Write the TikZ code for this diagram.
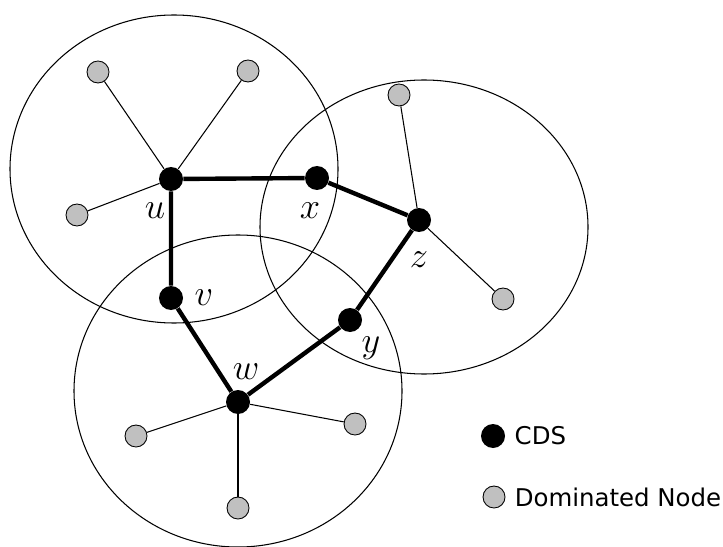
\documentclass[tikz,border=0pt]{standalone}
\usepackage{amsmath}
\usepackage{xcolor}
\usepackage{fontspec}
\newfontfamily\legendfont{DejaVu Sans}
\definecolor{domgray}{RGB}{192,192,192}

\begin{document}
\begin{tikzpicture}[x=0.02cm,y=-0.02cm]
\tikzstyle{every node}+=[inner sep=0pt]
\tikzstyle{cds}=[circle,fill=black,minimum size=24*0.02cm]
\tikzstyle{dom}=[circle,draw=black,line width=0.5pt,fill=domgray,minimum size=22*0.02cm]
\tikzstyle{lbl}=[font=\fontsize{21}{22}\selectfont]
\useasboundingbox (0,0) rectangle (723,547);
% coverage ranges
\draw [black,line width=0.6pt] (174,169) ellipse (164 and 154);
\draw [black,line width=0.6pt] (424,227) ellipse (164 and 147);
\draw [black,line width=0.6pt] (238,391) ellipse (164 and 156);
% backbone
\node [cds] (u) at (171,179) {};
\node [cds] (x) at (317,178) {};
\node [cds] (z) at (419,220) {};
\node [cds] (y) at (350,320) {};
\node [cds] (w) at (238,402) {};
\node [cds] (v) at (171,298) {};
% dominated nodes
\node [dom] (u1) at (98,72) {};
\node [dom] (u2) at (248,71) {};
\node [dom] (u3) at (77,215) {};
\node [dom] (z1) at (399,95) {};
\node [dom] (z2) at (503,299) {};
\node [dom] (w1) at (136,436) {};
\node [dom] (w2) at (355,424) {};
\node [dom] (w3) at (238,508) {};
\draw [black,line width=0.6pt] (u) -- (u1);
\draw [black,line width=0.6pt] (u) -- (u2);
\draw [black,line width=0.6pt] (u) -- (u3);
\draw [black,line width=0.6pt] (z) -- (z1);
\draw [black,line width=0.6pt] (z) -- (z2);
\draw [black,line width=0.6pt] (w) -- (w1);
\draw [black,line width=0.6pt] (w) -- (w2);
\draw [black,line width=0.6pt] (w) -- (w3);
\draw [black,line width=2.5pt] (u) -- (x) -- (z) -- (y) -- (w) -- (v) -- (u);
% labels
\draw (155,211) node [lbl] {$u$};
\draw (310,211) node [lbl] {$x$};
\draw (419,260) node [lbl] {$z$};
\draw (204,298) node [lbl] {$v$};
\draw (371,348) node [lbl] {$y$};
\draw (246,372) node [lbl] {$w$};
% legend
\node [cds] (lcds) at (493,436) {};
\node [dom] (ldom) at (494,497) {};
\draw (lcds.east) ++(9,0) node [right,font=\legendfont\fontsize{13.9}{16}\selectfont] (tcds) {CDS};
\draw (ldom.east) ++(9,0) node [right,font=\legendfont\fontsize{13.9}{16}\selectfont] (tdom) {Dominated Node};
\end{tikzpicture}
\end{document}
